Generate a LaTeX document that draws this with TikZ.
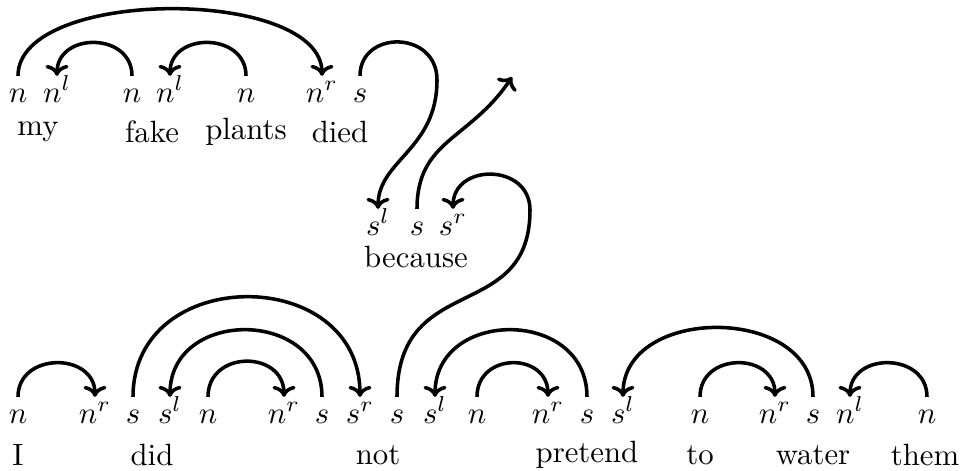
\documentclass[tikz,border=0pt]{standalone}
\usetikzlibrary{arrows.meta}
\begin{document}
\begin{tikzpicture}[x=0.325pt,y=-0.325pt,
  sym/.style={inner sep=0pt,outer sep=0pt,text height=8.5pt,text depth=0pt,anchor=base},
  word/.style={inner sep=0pt},
  link/.style={line width=1.15pt,-{Computer Modern Rightarrow[length=3.6pt,width=7.5pt]}}]
\useasboundingbox (0,0) rectangle (962,470);
% top row
\node[sym] (t1) at (18,102) {$n$};
\node[sym] (t2) at (57,102) {$n^l$};
\node[sym] (t3) at (132,102) {$n$};
\node[sym] (t4) at (170,102) {$n^l$};
\node[sym] (t5) at (246,102) {$n$};
\node[sym] (t6) at (322,102) {$n^r$};
\node[sym] (t7) at (360,102) {$s$};
\node[word] (my) at (38,132) {my};
\node[word] (fake) at (152,132) {fake};
\node[word] (plants) at (246,132) {plants};
\node[word] (died) at (340,132) {died};
% middle row
\node[sym] (m1) at (378,235) {$s^l$};
\node[sym] (m2) at (417,235) {$s$};
\node[sym] (m3) at (453,235) {$s^r$};
\node[word] (because) at (416,257) {because};
% bottom row
\node[sym] (b1) at (18,423) {$n$};
\node[sym] (b2) at (95,423) {$n^r$};
\node[sym] (b3) at (133,423) {$s$};
\node[sym] (b4) at (170,423) {$s^l$};
\node[sym] (b5) at (208,423) {$n$};
\node[sym] (b6) at (284,423) {$n^r$};
\node[sym] (b7) at (322,423) {$s$};
\node[sym] (b8) at (360,423) {$s^r$};
\node[sym] (b9) at (397,423) {$s$};
\node[sym] (b10) at (435,423) {$s^l$};
\node[sym] (b11) at (477,423) {$n$};
\node[sym] (b12) at (548,423) {$n^r$};
\node[sym] (b13) at (587,423) {$s$};
\node[sym] (b14) at (623,423) {$s^l$};
\node[sym] (b15) at (700,423) {$n$};
\node[sym] (b16) at (775,423) {$n^r$};
\node[sym] (b17) at (813,423) {$s$};
\node[sym] (b18) at (850,423) {$n^l$};
\node[sym] (b19) at (927,423) {$n$};
\node[word] (I) at (18,455) {I};
\node[word] (did) at (152,455) {did};
\node[word] (not) at (378,455) {not};
\node[word] (pretend) at (587,455) {pretend};
\node[word] (to) at (700,455) {to};
\node[word] (water) at (813,455) {water};
\node[word] (them) at (925,455) {them};
% helper coordinates
\coordinate (k1) at (437,80);
\coordinate (k2) at (530,210);
\coordinate (free) at (512,77);
% top links
\draw[link] (t1.north) .. controls +(0,-89) and +(0,-89) .. (t6.north);
\draw[link] (t3.north) .. controls +(0,-44) and +(0,-44) .. (t2.north);
\draw[link] (t5.north) .. controls +(0,-44) and +(0,-44) .. (t4.north);
% middle links
\draw[link] (t7.north) .. controls +(0,-46) and +(0,-50) .. (k1) .. controls +(0,70) and +(0,-49) .. (m1.north);
\draw[link] (m2.north) .. controls +(0,-69) and +(-42,63) .. (free);
\draw[link] (b9.north) .. controls +(0,-127) and +(0,115) .. (k2) .. controls +(0,-47) and +(0,-46) .. (m3.north);
% bottom links
\draw[link] (b1.north) .. controls +(0,-45) and +(0,-45) .. (b2.north);
\draw[link] (b3.north) .. controls +(0,-133) and +(0,-133) .. (b8.north);
\draw[link] (b7.north) .. controls +(0,-89) and +(0,-89) .. (b4.north);
\draw[link] (b5.north) .. controls +(0,-47) and +(0,-47) .. (b6.north);
\draw[link] (b13.north) .. controls +(0,-89) and +(0,-89) .. (b10.north);
\draw[link] (b11.north) .. controls +(0,-45) and +(0,-45) .. (b12.north);
\draw[link] (b17.north) .. controls +(0,-92) and +(0,-92) .. (b14.north);
\draw[link] (b15.north) .. controls +(0,-45) and +(0,-45) .. (b16.north);
\draw[link] (b19.north) .. controls +(0,-45) and +(0,-45) .. (b18.north);
\end{tikzpicture}
\end{document}
